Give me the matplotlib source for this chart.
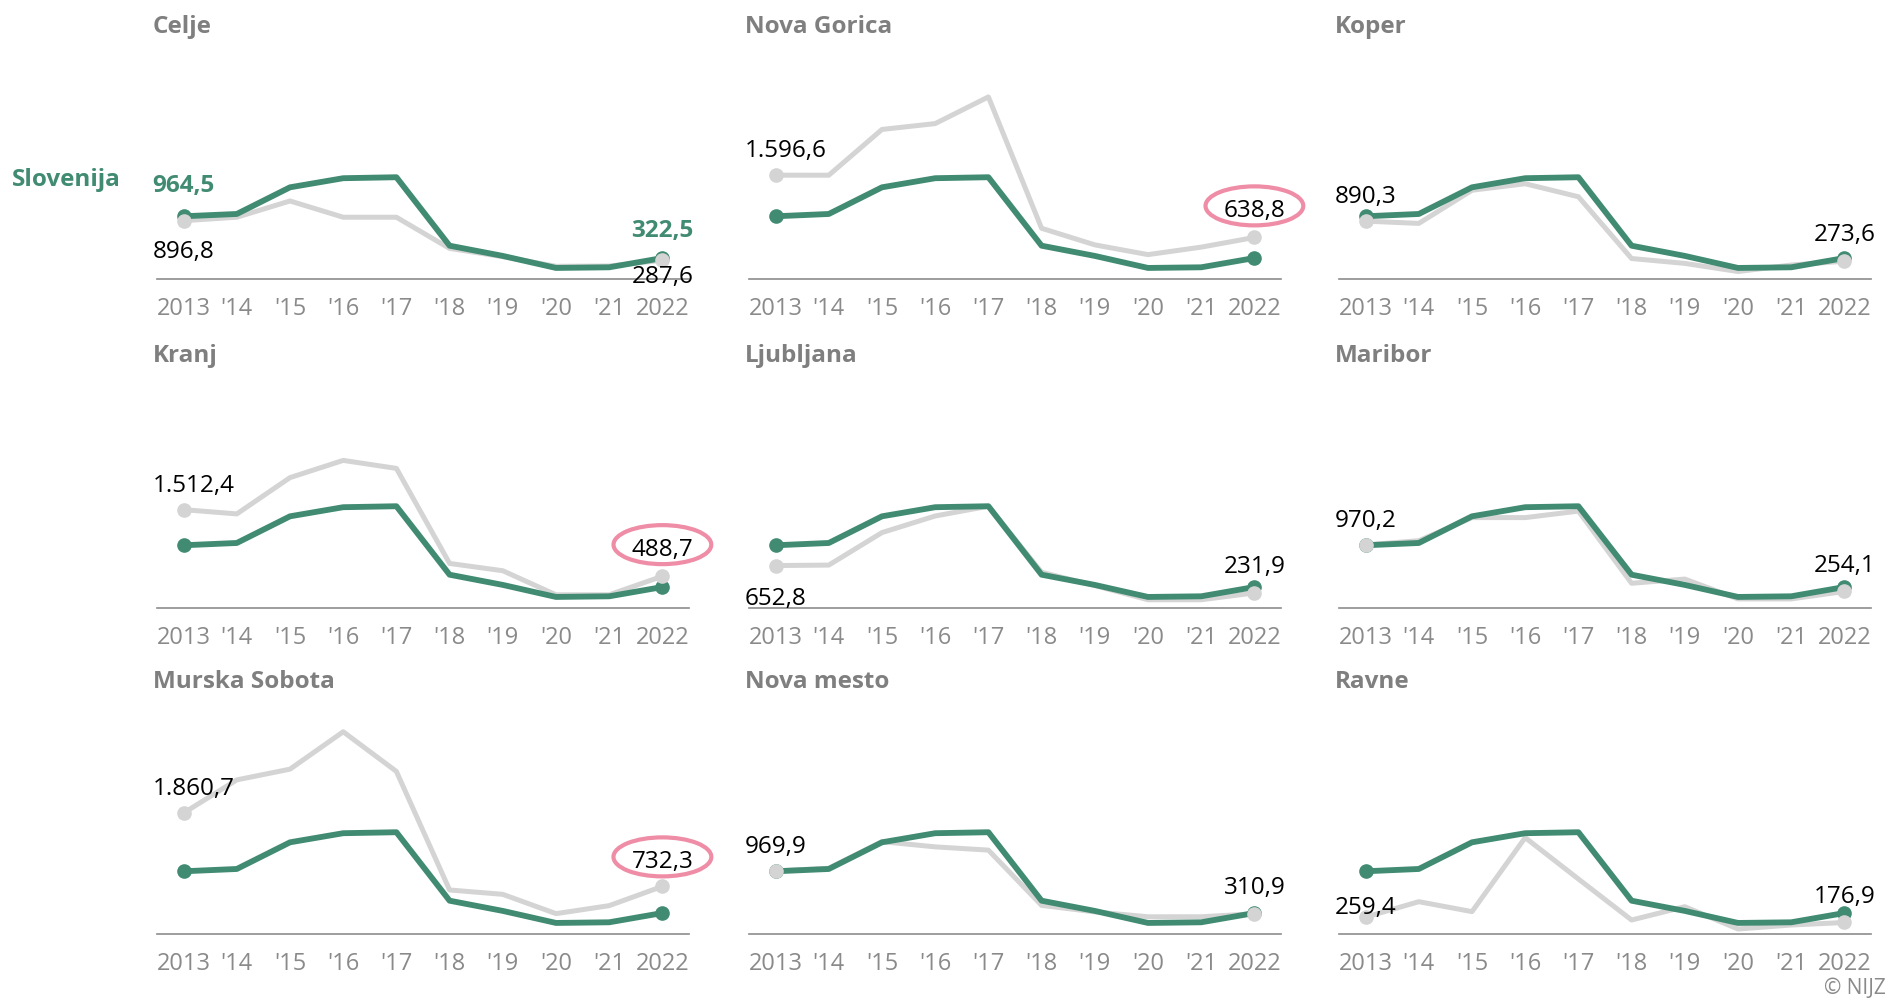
import numpy as np
import matplotlib
matplotlib.use("Agg")
import matplotlib.pyplot as plt
from matplotlib.patches import Ellipse
from matplotlib.transforms import IdentityTransform

plt.rcParams['font.family'] = ['Open Sans', 'DejaVu Sans']

# podatki
years = list(range(2013, 2023))
year_labels = ['2013', "'14", "'15", "'16", "'17", "'18", "'19", "'20", "'21", '2022']

slovenija = [964.5, 1000, 1410, 1550, 1565, 512, 355, 170, 180, 322.5]

regions = ['Celje', 'Nova Gorica', 'Koper',
           'Kranj', 'Ljubljana', 'Maribor',
           'Murska Sobota', 'Nova mesto', 'Ravne']

celje = [896.8, 950, 1200, 950, 950, 470, 343, 195, 200, 287.6]
nova_gorica = [1596.6, 1596, 2300, 2390, 2800, 780, 525, 375, 490, 638.8]
koper = [890.3, 855, 1365, 1465, 1265, 315, 240, 115, 215, 273.6]
kranj = [1512.4, 1447, 2005, 2270, 2147, 685, 573, 203, 203, 488.7]
ljubljana = [652.8, 660, 1160, 1415, 1565, 550, 345, 127, 127, 231.9]
maribor = [970.2, 1035, 1390, 1390, 1490, 380, 445, 140, 140, 254.1]
murska_sobota = [1860.7, 2370, 2535, 3110, 2500, 677, 610, 313, 436, 732.3]
novo_mesto = [969.9, 1010, 1420, 1340, 1290, 440, 340, 265, 265, 310.9]
ravne = [259.4, 497, 344, 1482, 846, 215, 420, 77, 138, 176.9]

region_values = [celje, nova_gorica, koper, kranj, ljubljana, maribor,
                 murska_sobota, novo_mesto, ravne]
highlighted = ['Nova Gorica', 'Kranj', 'Murska Sobota']

# postavitev (px)
W, H = 1888, 999
col_left = [157, 749, 1339]
row_base = [279, 608, 934]
ax_w, ax_h = 532, 238
# odmik oznak (pt) in poravnava
start_dy = [14, 8.5, 8.5, 8.5, 15.5, 8.5, 8.5, 8.5, -2]
start_va = ['top', 'bottom', 'bottom', 'bottom', 'top', 'bottom', 'bottom', 'bottom', 'bottom']
end_dy = [3.5, 10.5, 10, 10.5, 10, 10, 9, 10, 10]
end_va = ['top'] + ['bottom'] * 8

GREEN = '#418b72'
GREY_LINE = '#d4d4d4'
TXT_GREY = '#8a8a8a'
TITLE_GREY = '#7f7f7f'
PINK = '#ef8ca6'


def fmt(v):
    s = f"{v:,.1f}"
    return s.replace(',', 'X').replace('.', ',').replace('X', '.')


fig = plt.figure(figsize=(W / 100, H / 100), dpi=100)
fig.patch.set_facecolor('white')

end_texts = []
for i, (name, vals) in enumerate(zip(regions, region_values)):
    r, c = divmod(i, 3)
    ax = fig.add_axes([col_left[c] / W, (H - row_base[r]) / H, ax_w / W, ax_h / H])
    ax.set_xlim(2012.5, 2022.5)
    ax.set_ylim(0, 3660)
    for s in ['top', 'right', 'left']:
        ax.spines[s].set_visible(False)
    ax.spines['bottom'].set_color('#8c8c8c')
    ax.spines['bottom'].set_linewidth(1.2)
    ax.set_yticks([])
    ax.set_xticks(years)
    ax.set_xticklabels(year_labels)
    ax.tick_params(axis='x', length=0, pad=13, labelsize=17, labelcolor=TXT_GREY)

    ax.plot(years, vals, color=GREY_LINE, lw=3.6, zorder=2, solid_capstyle='round')
    ax.plot(years, slovenija, color=GREEN, lw=4.2, zorder=3, solid_capstyle='round')
    ax.plot([years[0], years[-1]], [slovenija[0], slovenija[-1]], 'o',
            color=GREEN, ms=9.5, zorder=4, clip_on=False)
    ax.plot([years[0], years[-1]], [vals[0], vals[-1]], 'o',
            color=GREY_LINE, ms=9.5, zorder=5, clip_on=False)

    fig.text((col_left[c] - 4) / W, (H - row_base[r] + 252) / H, name,
             fontsize=17.5, fontweight='bold', color=TITLE_GREY, va='center', ha='left')

    sgn = 1 if start_va[i] == 'bottom' else -1
    ax.annotate(fmt(vals[0]), (years[0], vals[0]), xytext=(-22, sgn * start_dy[i]),
                textcoords='offset points', ha='left', va=start_va[i],
                fontsize=17.5, color='black', zorder=6, annotation_clip=False)
    sgn = 1 if end_va[i] == 'bottom' else -1
    t = ax.annotate(fmt(vals[-1]), (years[-1], vals[-1]), xytext=(0, sgn * end_dy[i]),
                    textcoords='offset points', ha='center', va=end_va[i],
                    fontsize=17.5, color='black', zorder=6, annotation_clip=False)
    if name in highlighted:
        end_texts.append(t)

    if i == 0:
        ax.annotate(fmt(slovenija[0]), (years[0], slovenija[0]), xytext=(0, 13),
                    textcoords='offset points', ha='center', va='bottom',
                    fontsize=17.5, fontweight='bold', color=GREEN)
        ax.annotate(fmt(slovenija[-1]), (years[-1], slovenija[-1]), xytext=(0, 10.5),
                    textcoords='offset points', ha='center', va='bottom',
                    fontsize=17.5, fontweight='bold', color=GREEN)
        fig.text(12 / W, (H - 180) / H, 'Slovenija', fontsize=17.5,
                 fontweight='bold', color=GREEN, va='center', ha='left')

fig.canvas.draw()
renderer = fig.canvas.get_renderer()
for t in end_texts:
    bb = t.get_window_extent(renderer)
    cx, cy = (bb.x0 + bb.x1) / 2, (bb.y0 + bb.y1) / 2 + 5
    e = Ellipse((cx, cy), bb.width + 36, 39, fill=False, edgecolor=PINK,
                lw=3.0, transform=IdentityTransform())
    fig.add_artist(e)

fig.text(1886 / W, 5 / H, '© NIJZ', fontsize=15, color=TXT_GREY, ha='right', va='baseline')

fig.savefig('out.png', dpi=100, facecolor='white')
